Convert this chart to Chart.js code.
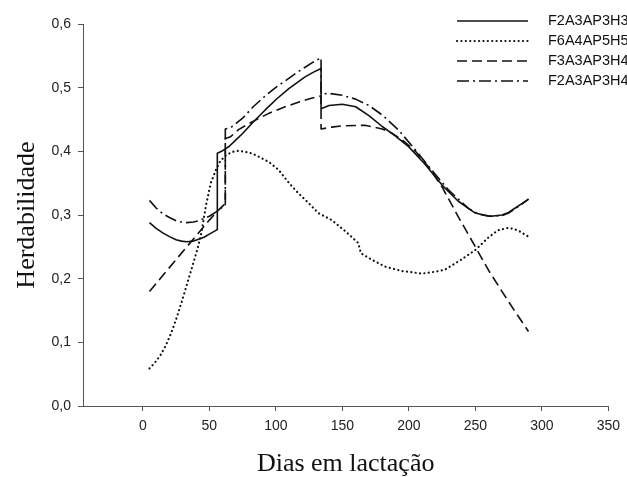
<!DOCTYPE html>
<html>
<head>
<meta charset="utf-8">
<script src="https://cdn.jsdelivr.net/npm/chart.js@4"></script>
<style>
  html, body { margin: 0; padding: 0; background: #fff; }
  #wrap { width: 627px; height: 477px; }
</style>
</head>
<body>
<div id="wrap"><canvas id="chart1" width="627" height="477"></canvas></div>
<script>
// Series names (legend)
var seriesNames = ['F2A3AP3H3', 'F6A4AP5H5', 'F3A3AP3H4', 'F2A3AP3H4'];

// Axis ticks
var xTicks = [0, 50, 100, 150, 200, 250, 300, 350];
var yTicks = [0, 0.1, 0.2, 0.3, 0.4, 0.5, 0.6];

// F2A3AP3H3 (solid) - jumps at 56 and 134
var solidX = [5, 10, 15, 20, 25, 29, 33, 38, 42, 46, 50, 56, 56, 60, 65, 70, 75, 83, 92, 101, 110, 116, 122, 128, 134, 134, 140, 150, 160, 170, 180, 190, 200, 212, 225, 237, 245, 250, 256, 262, 270, 275, 280, 285, 290];
var solidY = [0.288, 0.279, 0.272, 0.266, 0.261, 0.259, 0.258, 0.259, 0.262, 0.265, 0.270, 0.277, 0.397, 0.401, 0.408, 0.418, 0.428, 0.446, 0.465, 0.483, 0.499, 0.508, 0.517, 0.524, 0.530, 0.467, 0.472, 0.474, 0.470, 0.456, 0.439, 0.424, 0.407, 0.380, 0.347, 0.322, 0.310, 0.303, 0.300, 0.298, 0.300, 0.304, 0.311, 0.318, 0.325];

// F6A4AP5H5 (dotted)
var dotX = [5, 9, 13, 17, 21, 25, 29, 33, 37, 41, 44, 47.5, 51, 55, 58, 62, 67, 72, 80, 85, 95, 102, 110, 117, 125, 132, 142, 152, 162, 164, 172, 182, 195, 210, 220, 227, 238, 250, 260, 267, 275, 282, 290];
var dotY = [0.059, 0.068, 0.079, 0.094, 0.113, 0.136, 0.162, 0.190, 0.218, 0.246, 0.272, 0.315, 0.350, 0.371, 0.384, 0.393, 0.399, 0.401, 0.398, 0.394, 0.383, 0.371, 0.350, 0.334, 0.318, 0.303, 0.292, 0.275, 0.256, 0.240, 0.230, 0.219, 0.212, 0.208, 0.211, 0.214, 0.228, 0.245, 0.265, 0.276, 0.280, 0.276, 0.266];

// F3A3AP3H4 (dashed) - jumps at 62 and 134
var dashX = [5, 15, 25, 33, 42, 50, 56, 62, 62, 66, 72, 80, 95, 107, 118, 126, 134, 134, 142, 150, 167, 180, 187, 195, 205, 215, 225, 237, 250, 260, 270, 280, 290];
var dashY = [0.180, 0.205, 0.230, 0.250, 0.272, 0.292, 0.306, 0.318, 0.420, 0.423, 0.434, 0.444, 0.460, 0.470, 0.478, 0.483, 0.487, 0.435, 0.438, 0.440, 0.441, 0.435, 0.429, 0.418, 0.400, 0.375, 0.344, 0.298, 0.250, 0.213, 0.180, 0.148, 0.117];

// F2A3AP3H4 (dash-dot) - jumps at 62 and 134
var ddX = [5, 10, 15, 20, 25, 29, 33, 38, 42, 50, 56, 62, 62, 66, 75, 83, 92, 101, 110, 116, 122, 128, 134, 134, 140, 150, 160, 170, 180, 192, 205, 217, 230, 245, 252, 260, 270, 275, 280, 285, 290];
var ddY = [0.323, 0.311, 0.302, 0.296, 0.291, 0.289, 0.288, 0.289, 0.291, 0.298, 0.306, 0.316, 0.435, 0.437, 0.452, 0.470, 0.487, 0.502, 0.515, 0.524, 0.532, 0.540, 0.547, 0.490, 0.491, 0.488, 0.482, 0.472, 0.457, 0.434, 0.402, 0.371, 0.339, 0.310, 0.302, 0.298, 0.299, 0.303, 0.310, 0.317, 0.325];

function toPoints(xs, ys) {
    var pts = [];
    for (var i = 0; i < xs.length; i++) {
        pts.push({ x: xs[i], y: ys[i] });
    }
    return pts;
}

function makeSet(label, xs, ys, dash, width, cap) {
    return {
        label: label,
        data: toPoints(xs, ys),
        borderColor: '#111',
        borderWidth: width,
        borderDash: dash,
        borderCapStyle: cap,
        borderJoinStyle: 'round',
        pointRadius: 0,
        tension: 0,
        fill: false
    };
}

// draws the legend in the top right corner
var legendPlugin = {
    id: 'cornerLegend',
    afterDraw: function (chart) {
        var ctx = chart.ctx;
        ctx.save();
        chart.data.datasets.forEach(function (ds, i) {
            var y = 21 + i * 20;
            ctx.beginPath();
            ctx.strokeStyle = ds.borderColor;
            ctx.lineWidth = ds.borderWidth;
            ctx.lineCap = ds.borderCapStyle;
            ctx.setLineDash(ds.borderDash);
            ctx.moveTo(457, y);
            ctx.lineTo(528, y);
            ctx.stroke();
            ctx.setLineDash([]);
            ctx.fillStyle = '#111';
            ctx.font = '14.5px "Liberation Sans", Arial, sans-serif';
            ctx.textBaseline = 'middle';
            ctx.fillText(ds.label, 548, y);
        });
        ctx.restore();
    }
};

var ctx1 = document.getElementById('chart1').getContext('2d');
var chart1 = new Chart(ctx1, {
    type: 'line',
    data: {
        datasets: [
            makeSet(seriesNames[0], solidX, solidY, [], 1.6, 'butt'),
            makeSet(seriesNames[1], dotX, dotY, [0.1, 4.3], 2.2, 'round'),
            makeSet(seriesNames[2], dashX, dashY, [10, 5], 1.6, 'butt'),
            makeSet(seriesNames[3], ddX, ddY, [12, 4, 2, 4], 1.6, 'butt')
        ]
    },
    options: {
        responsive: false,
        animation: false,
        layout: { padding: { top: 24, right: 16, left: 0, bottom: 0 } },
        plugins: {
            legend: { display: false },
            tooltip: { enabled: false }
        },
        scales: {
            x: {
                type: 'linear',
                min: -45,
                max: 350,
                afterBuildTicks: function (scale) {
                    scale.ticks = xTicks.map(function (v) { return { value: v }; });
                },
                afterFit: function (scale) { scale.height = 71; },
                grid: { drawOnChartArea: false, drawTicks: true, tickLength: 5, color: '#555' },
                border: { display: true, color: '#555', width: 1 },
                ticks: {
                    color: '#222',
                    padding: 7,
                    maxRotation: 0,
                    font: { family: '"Liberation Sans", Arial, sans-serif', size: 14 }
                },
                title: {
                    display: true,
                    text: 'Dias em lactação',
                    color: '#111',
                    padding: { top: 0, bottom: 0 },
                    font: { family: '"Liberation Serif", "Times New Roman", serif', size: 26, lineHeight: 1 }
                }
            },
            y: {
                type: 'linear',
                min: 0,
                max: 0.6,
                afterBuildTicks: function (scale) {
                    scale.ticks = yTicks.map(function (v) { return { value: v }; });
                },
                afterFit: function (scale) { scale.width = 83; },
                grid: { drawOnChartArea: false, drawTicks: true, tickLength: 5, color: '#555' },
                border: { display: true, color: '#555', width: 1 },
                ticks: {
                    color: '#222',
                    padding: 7,
                    font: { family: '"Liberation Sans", Arial, sans-serif', size: 14 },
                    callback: function (v) { return v.toFixed(1).replace('.', ','); }
                },
                title: {
                    display: true,
                    text: 'Herdabilidade',
                    color: '#111',
                    padding: { top: 14, bottom: 0 },
                    font: { family: '"Liberation Serif", "Times New Roman", serif', size: 26, lineHeight: 1 }
                }
            }
        }
    },
    plugins: [legendPlugin]
});
</script>
</body>
</html>
